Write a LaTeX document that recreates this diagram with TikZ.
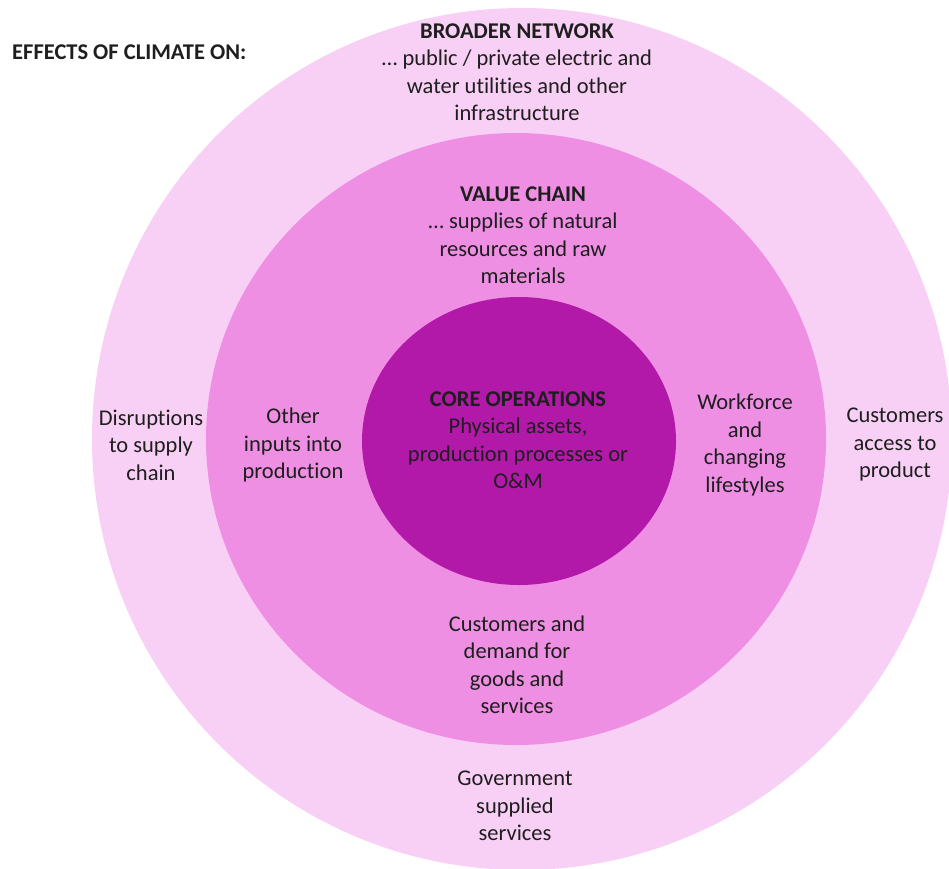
\documentclass[tikz,border=0pt]{standalone}
\usepackage{fontspec}
\setmainfont{Carlito}[Ligatures=CommonOff]
\definecolor{netpink}{HTML}{F9D0F5}
\definecolor{chainpink}{HTML}{EF8FE4}
\definecolor{corepurple}{HTML}{B219A8}
\definecolor{inktext}{HTML}{1E1E1E}
\begin{document}
\begin{tikzpicture}[x=1pt, y=-1pt,
        lbl/.style={align=center, text=inktext, inner sep=0pt, font=\fontsize{22.5}{27.5}\selectfont}]
        \useasboundingbox (0,0) rectangle (949,868);
        % the three rings, outside in
        \foreach \c/\cx/\cy/\rx/\ry in {netpink/522/439/430/431, chainpink/516/439/310/306, corepurple/519/441/157/144}
        {%
            \fill[\c] (\cx,\cy) ellipse [x radius=\rx pt, y radius=\ry pt];
        }%
        \node[lbl, anchor=west] (effects) at (12,52) {\textbf{EFFECTS OF CLIMATE ON:}};
        \node[lbl] (broader) at (517,72) {\textbf{BROADER NETWORK}\\… public / private electric and\\water utilities and other\\infrastructure};
        \node[lbl] (value) at (523,235) {\textbf{VALUE CHAIN}\\… supplies of natural\\resources and raw\\materials};
        \node[lbl] (core) at (518,440) {\textbf{CORE OPERATIONS}\\Physical assets,\\production processes or\\O\&M};
        \node[lbl] (disrupt) at (151,445) {Disruptions\\to supply\\chain};
        \node[lbl] (inputs) at (293,445) {Other\\inputs into\\production};
        \node[lbl] (workforce) at (745,445) {Workforce\\and\\changing\\lifestyles};
        \node[lbl] (access) at (895,445) {Customers\\access to\\product};
        \node[lbl] (demand) at (517,665) {Customers and\\demand for\\goods and\\services};
        \node[lbl] (govt) at (515,806) {Government\\supplied\\services};
    \end{tikzpicture}
\end{document}
